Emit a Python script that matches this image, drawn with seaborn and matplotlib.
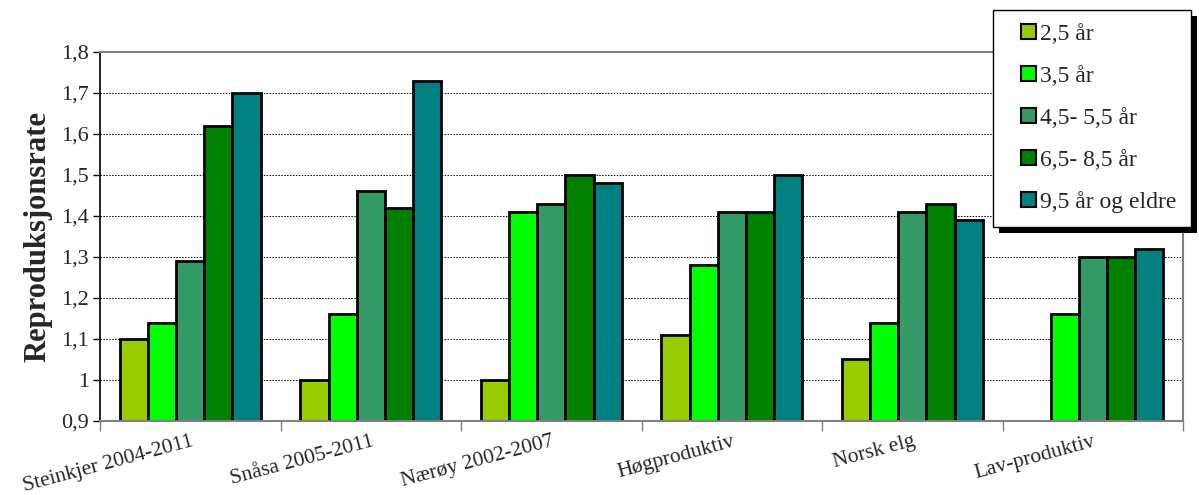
import pandas as pd
import seaborn as sns
import matplotlib.pyplot as plt
import numpy as np
from matplotlib.ticker import FuncFormatter, FixedLocator
from matplotlib.patches import Rectangle
from matplotlib.legend_handler import HandlerPatch

# Data
groups = ['Steinkjer 2004-2011', 'Snåsa 2005-2011', 'Nærøy 2002-2007',
          'Høgproduktiv', 'Norsk elg', 'Lav-produktiv']
ages = ['2,5 år', '3,5 år', '4,5- 5,5 år', '6,5- 8,5 år', '9,5 år og eldre']
age_25 = [1.10, 1.00, 1.00, 1.11, 1.05, 0.90]
age_35 = [1.14, 1.16, 1.41, 1.28, 1.14, 1.16]
age_45_55 = [1.29, 1.46, 1.43, 1.41, 1.41, 1.30]
age_65_85 = [1.62, 1.42, 1.50, 1.41, 1.43, 1.30]
age_95 = [1.70, 1.73, 1.48, 1.50, 1.39, 1.32]
colors = ['#99CC00', '#00FF00', '#339966', '#008000', '#008080']

# Long format for seaborn
series = [age_25, age_35, age_45_55, age_65_85, age_95]
df = pd.DataFrame({
    'gruppe': np.repeat([groups], len(ages), axis=0).ravel(),
    'alder': np.repeat(ages, len(groups)),
    'rate': np.concatenate(series),
})

sns.set_style('white')
plt.rcParams['font.family'] = ['Liberation Serif', 'DejaVu Serif']

fig = plt.figure(figsize=(11.99, 4.95), dpi=100)
ax = fig.add_axes([0.0834, 0.1495, 0.9033, 0.7455])

sns.barplot(data=df, x='gruppe', y='rate', hue='alder', order=groups,
            hue_order=ages, palette=colors, saturation=1, width=0.78, ax=ax,
            edgecolor='black', linewidth=2.0, errorbar=None, legend=False)

# bars start at the axis bottom (0.9) like Excel
for cont in ax.containers:
    for bar in cont:
        h = bar.get_height()
        bar.set_y(0.9)
        bar.set_height(h - 0.9)

ax.set_ylim(0.9, 1.8)
ax.set_xlim(-0.5, len(groups) - 0.5)
ax.set_yticks(np.arange(0.9, 1.81, 0.1))
ax.yaxis.set_major_formatter(FuncFormatter(
    lambda v, p: ('%g' % round(v, 1)).replace('.', ',')))
ax.yaxis.grid(True, color='black', linestyle=(0, (1.5, 1.5)), linewidth=0.7)
ax.set_axisbelow(True)

ax.set_xlabel('')
ax.set_ylabel('Reproduksjonsrate', fontsize=22, fontweight='bold', labelpad=6)
ax.tick_params(axis='y', labelsize=16, length=5, width=1, direction='out',
               left=True, color='black', pad=3)
ax.tick_params(axis='x', which='major', length=0, labelsize=15.5, pad=8)
ax.xaxis.set_minor_locator(FixedLocator(np.arange(-0.5, len(groups), 1.0)))
ax.tick_params(axis='x', which='minor', length=7, width=1, color='#808080',
               bottom=True, direction='out')
for lab in ax.get_xticklabels():
    lab.set_rotation(15)
    lab.set_ha('right')
    lab.set_rotation_mode('anchor')

for side in ['top', 'right', 'bottom']:
    ax.spines[side].set_color('#808080')
    ax.spines[side].set_linewidth(1.5)
ax.spines['left'].set_color('black')
ax.spines['left'].set_linewidth(1.2)


# square legend keys pushed to the right of the handle box
def square_key(legend, orig_handle, xdescent, ydescent, width, height, fontsize):
    return Rectangle((-xdescent + width - height, -ydescent), height, height)


handles = [Rectangle((0, 0), 1, 1, facecolor=c, edgecolor='black',
                     linewidth=1.5) for c in colors]
leg = fig.legend(handles, ages, loc='upper left',
                 bbox_to_anchor=(993 / 1199, 1 - 10 / 495),
                 fontsize=17, frameon=True, fancybox=False,
                 handler_map={Rectangle: HandlerPatch(patch_func=square_key)},
                 handlelength=1.2, handleheight=0.6, handletextpad=0.2,
                 labelspacing=0.88, borderpad=0.6, borderaxespad=0)
leg.get_frame().set_edgecolor('black')
leg.get_frame().set_linewidth(1.0)
leg.get_frame().set_alpha(1)

# black drop shadow under the legend box
fig.canvas.draw()
bb = leg.get_window_extent().transformed(fig.transFigure.inverted())
shadow = Rectangle((bb.x0 + 6 / 1199, bb.y0 - 6 / 495), bb.width, bb.height,
                   transform=fig.transFigure, facecolor='black',
                   edgecolor='none', zorder=leg.get_zorder() - 0.1)
fig.patches.append(shadow)

fig.savefig('out.png', dpi=100)
